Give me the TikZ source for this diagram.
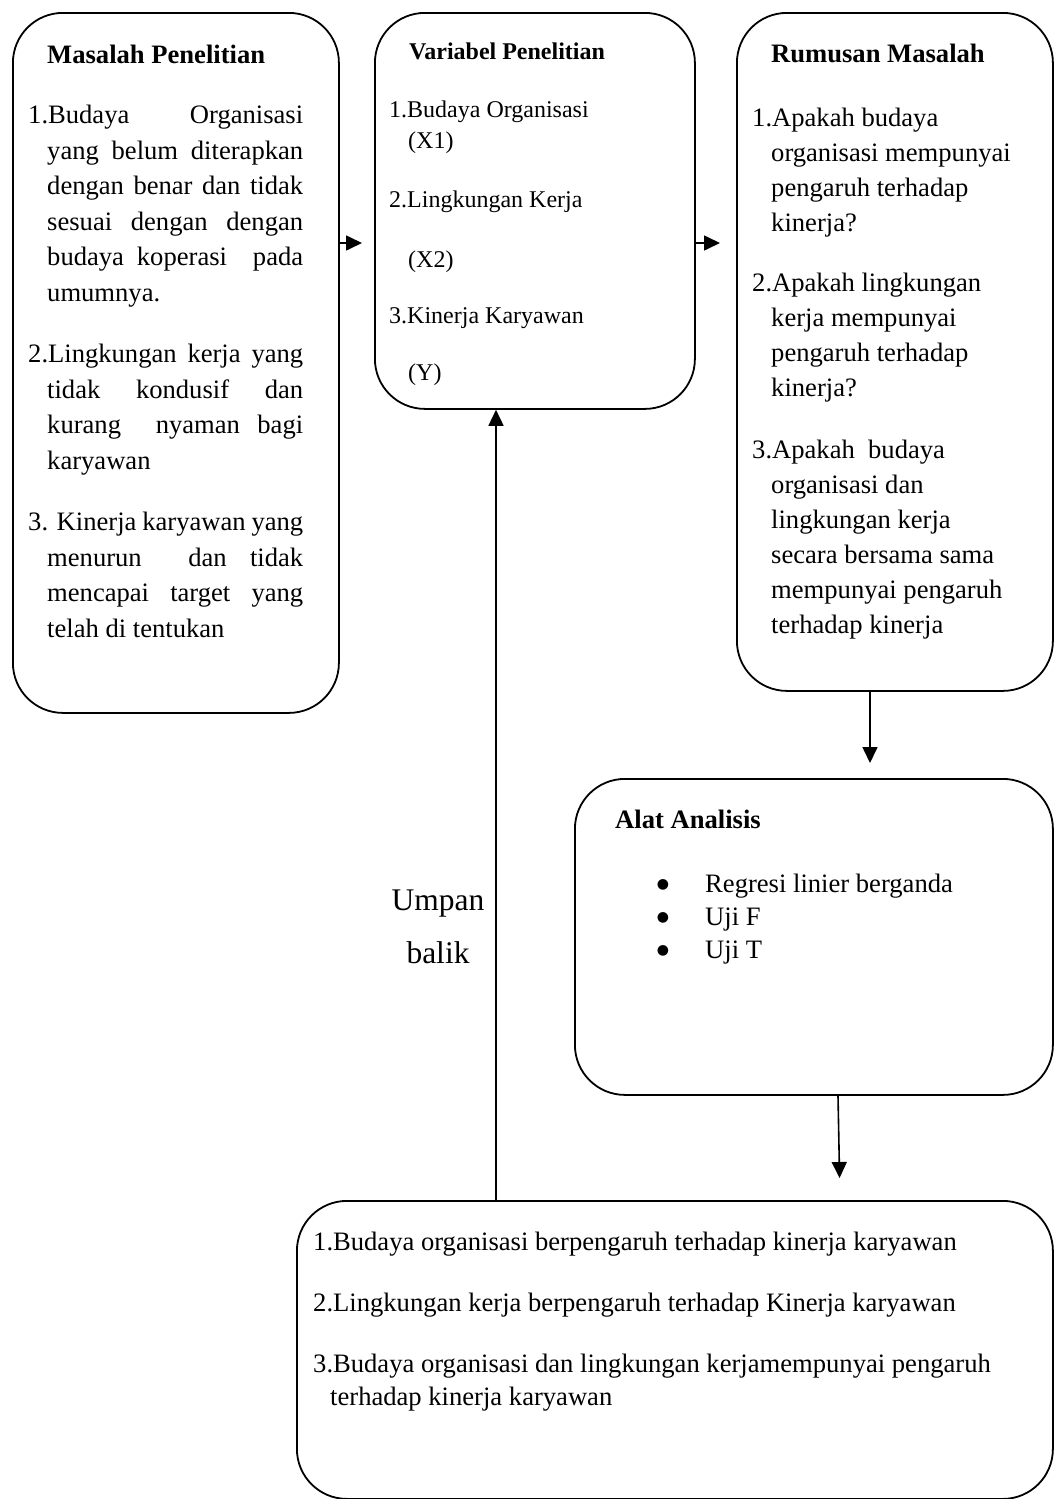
\documentclass[tikz,border=0pt]{standalone}
\usepackage{fontspec}
\setmainfont{Liberation Serif}
\newfontfamily\symfont{DejaVu Sans}
\usetikzlibrary{arrows.meta}
\begin{document}
\begin{tikzpicture}[x=1pt,y=-1pt,
  box/.style={draw, line width=1.8pt, rounded corners=50pt, anchor=north west, inner sep=0pt},
  arr/.style={line width=1.6pt, -{Triangle[length=16pt,width=15pt]}},
  txt/.style={font=\fontsize{26.6}{32}\selectfont, inner sep=0pt, anchor=base west},
  ttl/.style={font=\fontsize{26.6}{32}\selectfont\bfseries, inner sep=0pt, anchor=base west},
  stxt/.style={font=\fontsize{24}{29}\selectfont, inner sep=0pt, anchor=base west},
  sttl/.style={font=\fontsize{24}{29}\selectfont\bfseries, inner sep=0pt, anchor=base west},
  btxt/.style={font=\fontsize{31.5}{38}\selectfont, inner sep=0pt, anchor=base},
  bul/.style={font=\symfont\fontsize{14}{14}\selectfont, inner sep=0pt, anchor=center}]
\useasboundingbox (0,0) rectangle (1053,1499);

% boxes
\node[box, minimum width=326pt, minimum height=700pt] (b1) at (12,12) {};
\node[box, minimum width=320pt, minimum height=396pt] (b2) at (374,12) {};
\node[box, minimum width=316pt, minimum height=678pt] (b3) at (736,12) {};
\node[box, minimum width=478pt, minimum height=316pt] (b4) at (574,778) {};
\node[box, minimum width=756pt, minimum height=298pt] (b5) at (296,1200) {};

% box 1: Masalah Penelitian
\node[ttl] (m0) at (47,63) {Masalah Penelitian};
\node[txt] (m1) at (28,123.5) {\makebox[275pt][s]{1.Budaya Organisasi}};
\node[txt] (m2) at (47,159) {\makebox[256pt][s]{yang belum diterapkan}};
\node[txt] (m3) at (47,194.5) {\makebox[256pt][s]{dengan benar dan tidak}};
\node[txt] (m4) at (47,230) {\makebox[256pt][s]{sesuai dengan dengan}};
\node[txt] (m5) at (47,265.5) {\makebox[256pt][s]{budaya koperasi\ \ pada}};
\node[txt] (m6) at (47,301) {umumnya.};
\node[txt] (m7) at (28,362.5) {\makebox[275pt][s]{2.Lingkungan kerja yang}};
\node[txt] (m8) at (47,398) {\makebox[256pt][s]{tidak kondusif dan}};
\node[txt] (m9) at (47,433.5) {\makebox[256pt][s]{kurang\ \ nyaman bagi}};
\node[txt] (m10) at (47,469) {karyawan};
\node[txt] (m11) at (28,530.5) {\makebox[275pt][s]{3. Kinerja karyawan yang}};
\node[txt] (m12) at (47,566) {\makebox[256pt][s]{menurun\ \ dan tidak}};
\node[txt] (m13) at (47,601.5) {\makebox[256pt][s]{mencapai target yang}};
\node[txt] (m14) at (47,637) {telah di tentukan};

% box 2: Variabel Penelitian
\node[sttl] (v0) at (409,59) {Variabel Penelitian};
\node[stxt] (v1) at (389,117) {1.Budaya Organisasi};
\node[stxt] (v2) at (408,148) {(X1)};
\node[stxt] (v3) at (389,207) {2.Lingkungan Kerja};
\node[stxt] (v4) at (408,267) {(X2)};
\node[stxt] (v5) at (389,323) {3.Kinerja Karyawan};
\node[stxt] (v6) at (408,380) {(Y)};

% box 3: Rumusan Masalah
\node[ttl] (r0) at (771,62) {Rumusan Masalah};
\node[txt] (r1) at (752,126) {1.Apakah budaya};
\node[txt] (r2) at (771,161) {organisasi mempunyai};
\node[txt] (r3) at (771,196) {pengaruh terhadap};
\node[txt] (r4) at (771,231) {kinerja?};
\node[txt] (r5) at (752,291) {2.Apakah lingkungan};
\node[txt] (r6) at (771,326) {kerja mempunyai};
\node[txt] (r7) at (771,361) {pengaruh terhadap};
\node[txt] (r8) at (771,396) {kinerja?};
\node[txt] (r9) at (752,458) {3.Apakah\ \ budaya};
\node[txt] (r10) at (771,493) {organisasi dan};
\node[txt] (r11) at (771,528) {lingkungan kerja};
\node[txt] (r12) at (771,563) {secara bersama sama};
\node[txt] (r13) at (771,598) {mempunyai pengaruh};
\node[txt] (r14) at (771,633) {terhadap kinerja};

% box 4: Alat Analisis
\node[ttl] (a0) at (615,828) {Alat Analisis};
\node[bul] (ab1) at (663,884.5) {●};
\node[bul] (ab2) at (663,917.5) {●};
\node[bul] (ab3) at (663,950.5) {●};
\node[txt] (a1) at (705,892) {Regresi linier berganda};
\node[txt] (a2) at (705,925) {Uji F};
\node[txt] (a3) at (705,958) {Uji T};

% box 5: conclusions
\node[txt] (k1) at (313,1250) {1.Budaya organisasi berpengaruh terhadap kinerja karyawan};
\node[txt] (k2) at (313,1311) {2.Lingkungan kerja berpengaruh terhadap Kinerja karyawan};
\node[txt] (k3) at (313,1372) {3.Budaya organisasi dan lingkungan kerjamempunyai pengaruh};
\node[txt] (k4) at (330,1405) {terhadap kinerja karyawan};

% feedback label
\node[btxt] (u1) at (438,910) {Umpan};
\node[btxt] (u2) at (438,963) {balik};

% connectors
\coordinate (ya) at (0,243);
\coordinate (xa) at (870,0);
\coordinate (xb) at (838,0);
\coordinate (xc) at (840,0);
\coordinate (xf) at (496,0);
\draw[arr, shorten >=12pt] (b1.east |- ya) -- (b2.west |- ya);
\draw[arr, shorten >=16pt] (b2.east |- ya) -- (b3.west |- ya);
\draw[arr, shorten >=15pt] (b3.south -| xa) -- (b4.north -| xa);
\draw[arr, shorten >=22pt] (b4.south -| xb) -- (b5.north -| xc);
\draw[arr] (b5.north -| xf) -- (b2.south -| xf);
\end{tikzpicture}
\end{document}
